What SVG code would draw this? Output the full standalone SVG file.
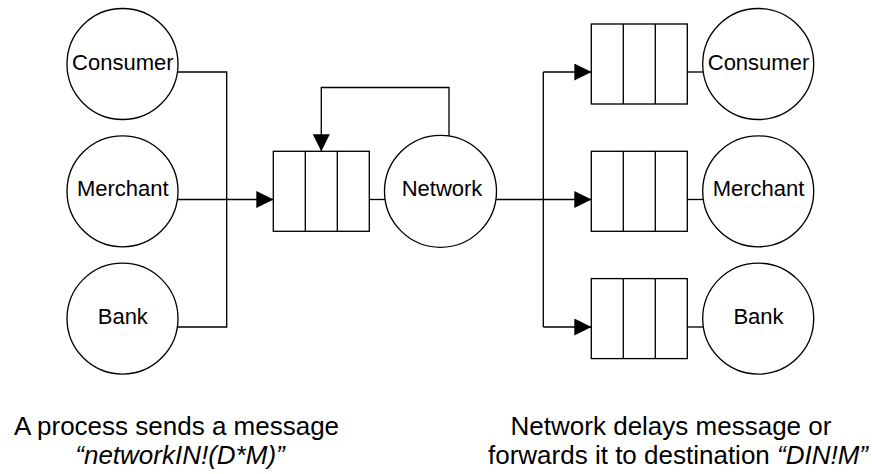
<svg xmlns="http://www.w3.org/2000/svg" width="872" height="474" viewBox="0 0 872 474">
  <style>
    .node circle { fill: #ffffff; stroke: #000000; stroke-width: 1.33; }
    .label { font-family: "Liberation Sans", Arial, sans-serif; font-size: 22px; fill: #000000; text-anchor: middle; }
    .caption { font-family: "Liberation Sans", Arial, sans-serif; font-size: 26px; fill: #000000; text-anchor: middle; }
    .it { font-style: italic; }
    .wire { fill: none; stroke: #000000; stroke-width: 1.33; }
  </style>
  <defs>
    <marker id="arrow" viewBox="0 0 17 17" refX="17" refY="8.5" markerWidth="17" markerHeight="17" markerUnits="userSpaceOnUse" orient="auto">
      <path d="M0,0 L17,8.5 L0,17 Z" fill="#000000"/>
    </marker>
    <!-- three-slot message buffer -->
    <g id="q" fill="#ffffff" stroke="#000000" stroke-width="1.33">
      <rect x="0" y="0" width="96" height="80"/>
      <line x1="32" y1="0" x2="32" y2="80"/>
      <line x1="64" y1="0" x2="64" y2="80"/>
    </g>
  </defs>

  <!-- connectors -->
  <g id="connectors" class="wire">
    <!-- senders onto the shared bus -->
    <path d="M177.4,72 H226.7 V327 H177.4"/>
    <path d="M178,199.5 H273.3" marker-end="url(#arrow)"/>
    <!-- inbound queue to network -->
    <path d="M369.3,199.5 H385"/>
    <!-- delay loop back into the queue -->
    <path d="M449,136 V87.5 H321.3 V151.3" marker-end="url(#arrow)"/>
    <!-- network fan-out -->
    <path d="M496,199.5 H543.3"/>
    <path d="M543.3,72 V327"/>
    <path d="M543.3,72 H591.3" marker-end="url(#arrow)"/>
    <path d="M543.3,199.5 H591.3" marker-end="url(#arrow)"/>
    <path d="M543.3,327 H591.3" marker-end="url(#arrow)"/>
    <!-- outbound queues to receivers -->
    <path d="M687.3,72 H703.3"/>
    <path d="M687.3,199.5 H703"/>
    <path d="M687.3,327 H703.3"/>
  </g>

  <!-- senders -->
  <g id="consumer-src" class="node">
    <circle cx="122.5" cy="64" r="55.5"/>
    <text class="label" x="122.8" y="69.5">Consumer</text>
  </g>
  <g id="merchant-src" class="node">
    <circle cx="122.5" cy="191.3" r="55.5"/>
    <text class="label" x="122.8" y="196.3">Merchant</text>
  </g>
  <g id="bank-src" class="node">
    <circle cx="122.5" cy="318.6" r="55.5"/>
    <text class="label" x="122.8" y="324">Bank</text>
  </g>

  <!-- network input queue -->
  <g id="network-queue">
    <use href="#q" x="273.3" y="151.3"/>
  </g>

  <g id="network" class="node">
    <circle cx="440.5" cy="191.3" r="56"/>
    <text class="label" x="442" y="196.3">Network</text>
  </g>

  <!-- receiver queues -->
  <g id="consumer-queue">
    <use href="#q" x="591.3" y="24"/>
  </g>
  <g id="merchant-queue">
    <use href="#q" x="591.3" y="151.3"/>
  </g>
  <g id="bank-queue">
    <use href="#q" x="591.3" y="278.6"/>
  </g>

  <!-- receivers -->
  <g id="consumer-dst" class="node">
    <circle cx="758.2" cy="64" r="55.5"/>
    <text class="label" x="758.5" y="69.5">Consumer</text>
  </g>
  <g id="merchant-dst" class="node">
    <circle cx="758.2" cy="191.3" r="55.5"/>
    <text class="label" x="758.5" y="196.3">Merchant</text>
  </g>
  <g id="bank-dst" class="node">
    <circle cx="758.2" cy="318.6" r="55.5"/>
    <text class="label" x="758.5" y="324">Bank</text>
  </g>

  <!-- captions -->
  <g id="caption-send">
    <text class="caption" x="176.5" y="434.5">A process sends a message</text>
    <text class="caption it" x="180" y="463.5">“networkIN!(D*M)”</text>
  </g>
  <g id="caption-forward">
    <text class="caption" x="671" y="434.5">Network delays message or</text>
    <text class="caption" x="678" y="463.5">forwards it to destination <tspan class="it">“DIN!M”</tspan></text>
  </g>
</svg>
